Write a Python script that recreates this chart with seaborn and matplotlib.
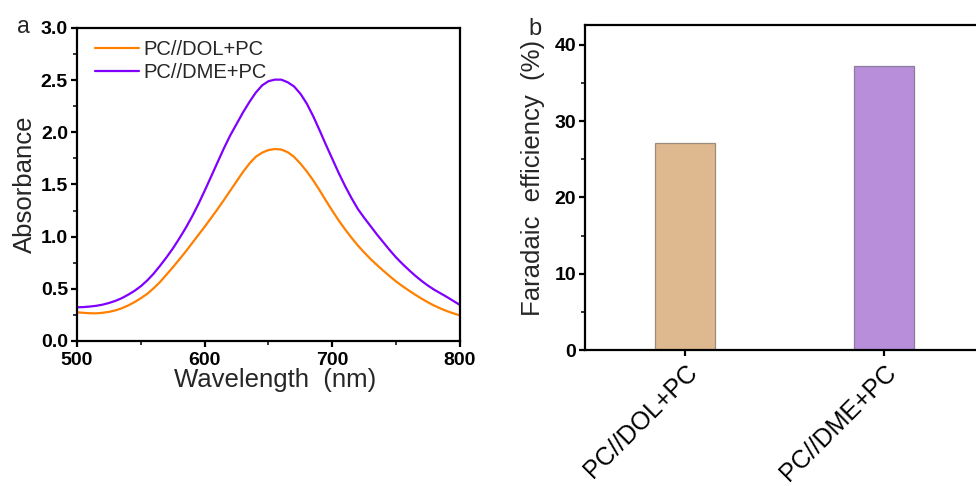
import matplotlib
matplotlib.use("Agg")
import matplotlib.pyplot as plt
from matplotlib.ticker import MultipleLocator, FormatStrFormatter
import pandas as pd
import seaborn as sns

# UV-vis spectra (absorbance vs wavelength, 5 nm steps)
wavelength = [500, 505, 510, 515, 520, 525, 530, 535, 540, 545, 550, 555, 560, 565,
              570, 575, 580, 585, 590, 595, 600, 605, 610, 615, 620, 625, 630, 635,
              640, 645, 650, 655, 660, 665, 670, 675, 680, 685, 690, 695, 700, 705,
              710, 715, 720, 725, 730, 735, 740, 745, 750, 755, 760, 765, 770, 775,
              780, 785, 790, 795, 800]
abs_dol = [0.275, 0.27, 0.266, 0.265, 0.27, 0.279, 0.293, 0.313, 0.34, 0.372, 0.41,
           0.452, 0.505, 0.565, 0.635, 0.705, 0.78, 0.855, 0.935, 1.015, 1.095, 1.178,
           1.262, 1.35, 1.44, 1.53, 1.62, 1.70, 1.765, 1.805, 1.83, 1.84, 1.835, 1.81,
           1.765, 1.70, 1.625, 1.54, 1.445, 1.345, 1.248, 1.155, 1.07, 0.99, 0.915,
           0.848, 0.785, 0.728, 0.673, 0.62, 0.57, 0.525, 0.483, 0.443, 0.405, 0.37,
           0.338, 0.31, 0.285, 0.264, 0.245]
abs_dme = [0.323, 0.325, 0.33, 0.337, 0.348, 0.364, 0.384, 0.41, 0.443, 0.48, 0.525,
           0.58, 0.645, 0.72, 0.80, 0.885, 0.98, 1.08, 1.19, 1.31, 1.44, 1.575, 1.71,
           1.845, 1.97, 2.08, 2.19, 2.29, 2.38, 2.45, 2.49, 2.505, 2.505, 2.48, 2.44,
           2.37, 2.275, 2.155, 2.02, 1.88, 1.745, 1.61, 1.485, 1.37, 1.265, 1.18, 1.10,
           1.02, 0.945, 0.87, 0.80, 0.738, 0.68, 0.625, 0.575, 0.53, 0.49, 0.455, 0.42,
           0.382, 0.345]
series_names = ["PC//DOL+PC", "PC//DME+PC"]
line_colors = ["#FF8000", "#8000FF"]

# Faradaic efficiency
fe_labels = ["PC//DOL+PC", "PC//DME+PC"]
fe_values = [27.1, 37.2]
bar_colors = ["#DEB88F", "#B88EDB"]
bar_edges = ["#9C8C7C", "#8C7C9C"]

sns.set_theme(style="ticks")
plt.rcParams["font.family"] = ["Liberation Sans", "DejaVu Sans"]
plt.rcParams.update({
    "axes.linewidth": 1.6,
    "xtick.major.width": 1.6, "ytick.major.width": 1.6,
    "xtick.minor.width": 1.3, "ytick.minor.width": 1.3,
    "xtick.major.size": 4.5, "ytick.major.size": 4.5,
    "xtick.minor.size": 2.8, "ytick.minor.size": 2.8,
    "xtick.direction": "out", "ytick.direction": "out",
})

fig = plt.figure(figsize=(9.76, 4.86), dpi=100)
ax1 = fig.add_axes([0.0789, 0.2984, 0.3924, 0.6440])
ax2 = fig.add_axes([0.5994, 0.2798, 0.4088, 0.6688])

# Panel a: spectra
spec = pd.DataFrame({
    "Wavelength": wavelength * 2,
    "Absorbance": abs_dol + abs_dme,
    "Sample": [series_names[0]] * len(wavelength) + [series_names[1]] * len(wavelength),
})
sns.lineplot(data=spec, x="Wavelength", y="Absorbance", hue="Sample",
             palette=line_colors, linewidth=1.6, ax=ax1)
ax1.set_xlim(500, 800)
ax1.set_ylim(0, 3.0)
ax1.xaxis.set_major_locator(MultipleLocator(100))
ax1.xaxis.set_minor_locator(MultipleLocator(50))
ax1.yaxis.set_major_locator(MultipleLocator(0.5))
ax1.yaxis.set_minor_locator(MultipleLocator(0.25))
ax1.yaxis.set_major_formatter(FormatStrFormatter("%.1f"))
ax1.set_xlabel("Wavelength  (nm)", fontsize=18.5, labelpad=2)
ax1.xaxis.set_label_coords(0.517, -0.085, transform=ax1.transAxes)
ax1.xaxis.label.set_va("top")
ax1.set_ylabel("Absorbance", fontsize=18.5, labelpad=3)
for lab in ax1.get_xticklabels() + ax1.get_yticklabels():
    lab.set_fontweight("bold")
    lab.set_fontsize(14)
ax1.tick_params(axis="both", pad=2, colors="black")
ax1.tick_params(axis="x", pad=3.5)
leg = ax1.legend(loc="upper left", frameon=False, fontsize=14.5,
                 handlelength=2.2, handletextpad=0.2, labelspacing=0.2,
                 borderaxespad=0.2, bbox_to_anchor=(0.015, 1.0))
for h in leg.get_lines():
    h.set_linewidth(1.6)
for s in ax1.spines.values():
    s.set_visible(True)
    s.set_color("black")
fig.text(0.017, 0.932, "a", fontsize=16.5)

# Panel b: Faradaic efficiency bars
fe = pd.DataFrame({"Sample": fe_labels, "FE": fe_values})
sns.barplot(data=fe, x="Sample", y="FE", hue="Sample", palette=bar_colors,
            saturation=1, width=0.3, legend=False, ax=ax2)
for patch, ec in zip(ax2.patches, bar_edges):
    patch.set_edgecolor(ec)
    patch.set_linewidth(0.9)
ax2.set_xlim(-0.5, 1.5)
ax2.set_ylim(0, 42.6)
ax2.yaxis.set_major_locator(MultipleLocator(10))
ax2.yaxis.set_minor_locator(MultipleLocator(5))
ax2.set_xlabel("")
ax2.set_ylabel("Faradaic  efficiency  (%)", fontsize=18.5)
ax2.yaxis.set_label_coords(-0.1, 0.529, transform=ax2.transAxes)
ax2.set_xticks(range(len(fe_labels)))
ax2.set_xticklabels(fe_labels, rotation=45, ha="right", va="top",
                    rotation_mode="anchor", fontsize=18)
for lab in ax2.get_yticklabels():
    lab.set_fontweight("bold")
    lab.set_fontsize(14)
ax2.tick_params(axis="both", pad=2, colors="black")
ax2.tick_params(axis="x", pad=2.5)
for s in ax2.spines.values():
    s.set_visible(True)
    s.set_color("black")
fig.text(0.541, 0.928, "b", fontsize=17)

fig.savefig("out.png", dpi=100, facecolor="white")
